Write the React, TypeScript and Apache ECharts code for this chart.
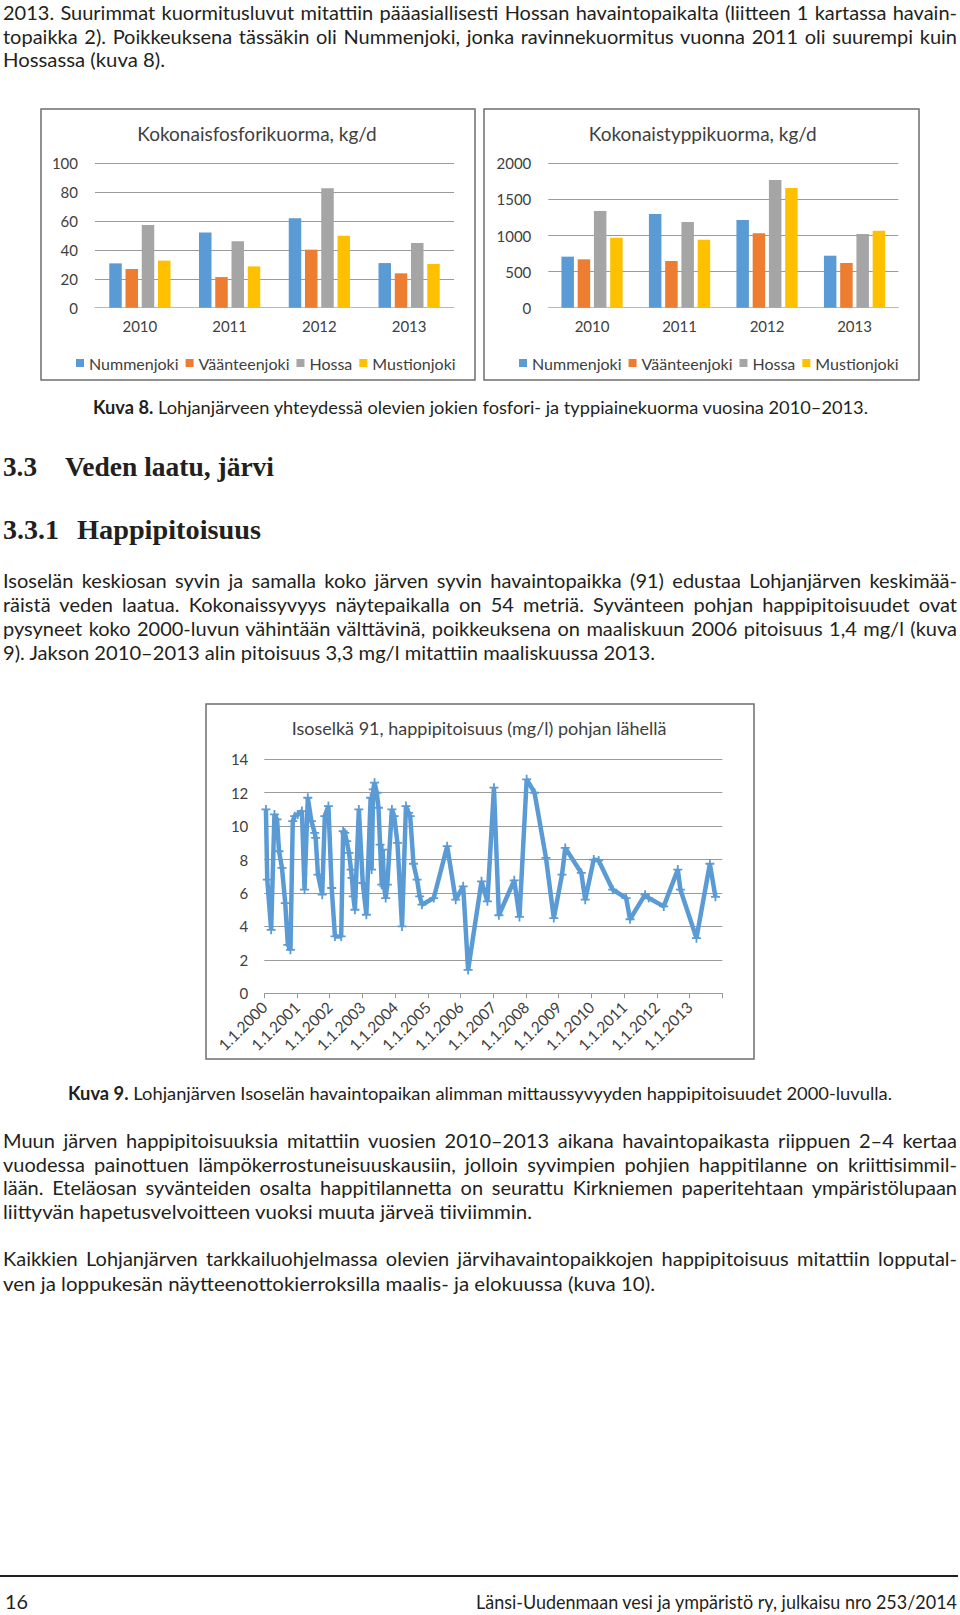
import React, { useEffect, useLayoutEffect, useRef, useState } from "react";
import * as echarts from "echarts";

const FONT = 'Lato, "Open Sans", sans-serif';
const SERIF = '"Liberation Serif", "DejaVu Serif", serif';
const TXT = "#404040";

const years = ["2010", "2011", "2012", "2013"];
const rivers = ["Nummenjoki", "Väänteenjoki", "Hossa", "Mustionjoki"];
const riverColors = ["#5B9BD5", "#ED7D31", "#A5A5A5", "#FFC000"];

// Kokonaisfosforikuorma, kg/d
const phosNummenjoki = [30.7, 52, 61.9, 30.9];
const phosVaanteenjoki = [26.8, 21.2, 40.2, 23.8];
const phosHossa = [57.3, 46, 82.7, 44.8];
const phosMustionjoki = [32.6, 28.6, 49.9, 30.3];

// Kokonaistyppikuorma, kg/d
const nitNummenjoki = [707, 1298, 1215, 720];
const nitVaanteenjoki = [670, 647, 1030, 619];
const nitHossa = [1340, 1187, 1769, 1020];
const nitMustionjoki = [970, 942, 1658, 1067];

// Isoselkä 91, happipitoisuus (mg/l) pohjan lähellä — dates as decimal years
const oxDates = [
  2000.05, 2000.09, 2000.21, 2000.31, 2000.39, 2000.45, 2000.54, 2000.64, 2000.72, 2000.8,
  2000.87, 2000.93, 2001.02, 2001.15, 2001.23, 2001.33, 2001.44, 2001.54, 2001.57, 2001.64,
  2001.77, 2001.85, 2001.96, 2002.06, 2002.16, 2002.35, 2002.41, 2002.46, 2002.52, 2002.59,
  2002.65, 2002.68, 2002.72, 2002.77, 2002.89, 2003.01, 2003.12, 2003.25, 2003.28, 2003.33,
  2003.37, 2003.44, 2003.49, 2003.54, 2003.59, 2003.62, 2003.66, 2003.71, 2003.76, 2003.9,
  2003.97, 2004.07, 2004.21, 2004.33, 2004.41, 2004.46, 2004.56, 2004.67, 2004.75, 2004.82,
  2005.18, 2005.59, 2005.85, 2006.08, 2006.23, 2006.64, 2006.82, 2007.02, 2007.17, 2007.64,
  2007.8, 2008.02, 2008.26, 2008.61, 2008.85, 2009.1, 2009.2, 2009.69, 2009.81, 2010.07,
  2010.22, 2010.65, 2011.06, 2011.18, 2011.64, 2011.75, 2012.21, 2012.64, 2012.72, 2013.21,
  2013.62, 2013.79,
];
const oxValues = [
  11.0, 6.8, 3.8, 10.7, 10.4, 8.5, 7.5, 5.4, 2.9, 2.6,
  10.3, 10.6, 10.7, 10.9, 6.2, 11.7, 10.3, 9.6, 9.3, 7.1,
  5.9, 10.6, 11.2, 6.3, 3.4, 3.4, 9.7, 9.6, 9.1, 8.4,
  7.4, 6.9, 5.8, 5.0, 11.0, 6.6, 4.7, 11.7, 7.4, 12.2,
  12.6, 12.0, 11.1, 8.9, 6.5, 8.6, 6.4, 5.7, 6.5, 11.0,
  10.6, 9.0, 4.0, 11.2, 10.8, 10.6, 7.75, 6.8, 5.8, 5.3,
  5.7, 8.8, 5.6, 6.4, 1.4, 6.7, 5.5, 12.3, 4.67, 6.76,
  4.57, 12.8, 12.0, 8.1, 4.5, 7.1, 8.7, 7.2, 5.6, 8.0,
  7.95, 6.2, 5.7, 4.43, 5.9, 5.7, 5.2, 7.4, 6.2, 3.3,
  7.75, 5.77,
];

const xTicks = { min: 2000, max: 2014, step: 1 };

const PLUS = "path://M4,0H6V4H10V6H6V10H4V6H0V4H4Z";

function FitLine(props: any) {
  const { x, y, w, j, size = 20, family = FONT, weight = 400, children } = props;
  const ref = useRef<HTMLSpanElement>(null);
  const [st, setSt] = useState<any>({});
  useLayoutEffect(() => {
    const el = ref.current;
    if (!el) return;
    const nat = el.getBoundingClientRect().width;
    const spaces = ((el.textContent || "").match(/ /g) || []).length;
    if (j && nat < w && spaces > 0) setSt({ wordSpacing: (w - nat) / spaces });
    else if (nat > 0) setSt({ transform: `scaleX(${w / nat})` });
  }, []);
  const lh = Math.round(size * 1.25);
  return (
    <span
      ref={ref}
      style={{
        position: "absolute",
        left: x,
        top: y - lh / 2,
        whiteSpace: "pre",
        fontSize: size,
        lineHeight: lh + "px",
        fontFamily: family,
        fontWeight: weight,
        color: "#231f20",
        transformOrigin: "0 50%",
        ...st,
      }}
    >
      {children}
    </span>
  );
}

function Charts() {
  const ref = useRef<HTMLDivElement>(null);
  useEffect(() => {
    if (!ref.current) return;
    const chart = echarts.init(ref.current, null, { renderer: "svg" });
    const phos = [phosNummenjoki, phosVaanteenjoki, phosHossa, phosMustionjoki];
    const nit = [nitNummenjoki, nitVaanteenjoki, nitHossa, nitMustionjoki];
    const barSeries: any[] = [];
    rivers.forEach((r, i) => {
      barSeries.push({
        type: "bar", name: r, xAxisIndex: 0, yAxisIndex: 0, data: phos[i],
        barWidth: 12.5, barGap: "30%", itemStyle: { color: riverColors[i] },
      });
    });
    rivers.forEach((r, i) => {
      barSeries.push({
        type: "bar", name: r, xAxisIndex: 1, yAxisIndex: 1, data: nit[i],
        barWidth: 12.5, barGap: "30%", itemStyle: { color: riverColors[i] },
      });
    });
    const catAxis = (g: number) => ({
      type: "category", gridIndex: g, data: years,
      axisTick: { show: false },
      axisLine: { lineStyle: { color: "#bbbbbb" } },
      axisLabel: { fontSize: 15, color: TXT, margin: 11, fontFamily: FONT },
    });
    const valAxis = (g: number, max: number, interval: number, margin: number) => ({
      type: "value", gridIndex: g, min: 0, max, interval,
      axisLine: { show: false }, axisTick: { show: false },
      splitLine: { lineStyle: { color: "#9a9a9a", width: 1 } },
      axisLabel: { fontSize: 15, color: TXT, margin, fontFamily: FONT, formatter: (v: number) => String(v) },
    });
    const legend = (left: number) => ({
      data: rivers, left, top: 350, itemWidth: 8, itemHeight: 8, itemGap: 7,
      icon: "rect", selectedMode: false,
      textStyle: { fontSize: 16, color: TXT, fontFamily: FONT },
    });
    const box = (x: number, y: number, width: number, height: number) => ({
      type: "rect", silent: true, shape: { x, y, width, height },
      style: { fill: "none", stroke: "#6e6e6e", lineWidth: 1.5 },
    });
    const title = (text: string, x: number, y: number, size: number) => ({
      type: "text", silent: true, x, y,
      style: {
        text, font: `${size}px ${FONT}`, fill: TXT,
        textAlign: "center", textVerticalAlign: "middle", align: "center", verticalAlign: "middle",
      },
    });
    chart.setOption({
      animation: false,
      grid: [
        { left: 95, top: 163.3, width: 359, height: 144.4 },
        { left: 548.3, top: 163.3, width: 350, height: 144.4 },
        { left: 264.3, top: 759.3, width: 458, height: 234 },
      ],
      xAxis: [
        catAxis(0),
        catAxis(1),
        {
          type: "value", gridIndex: 2, min: xTicks.min, max: xTicks.max, interval: xTicks.step,
          splitLine: { show: false },
          axisLine: { show: true, onZero: false, lineStyle: { color: "#9a9a9a" } },
          axisTick: { show: true, length: 5, lineStyle: { color: "#9a9a9a" } },
          axisLabel: {
            rotate: 45, fontSize: 15.5, color: TXT, margin: 11, fontFamily: FONT,
            formatter: (v: number) => (v < xTicks.max ? "1.1." + v : ""),
          },
        },
      ],
      yAxis: [valAxis(0, 100, 20, 17), valAxis(1, 2000, 500, 17), valAxis(2, 14, 2, 16)],
      legend: [legend(71), legend(514)],
      series: [
        ...barSeries,
        {
          type: "line", name: "Isoselkä 91", xAxisIndex: 2, yAxisIndex: 2,
          data: oxDates.map((d, i) => [d, oxValues[i]]),
          symbol: PLUS, symbolSize: 9, showAllSymbol: true,
          lineStyle: { width: 4.5, color: "#5B9BD5" },
          itemStyle: { color: "#5B9BD5" },
        },
      ],
      graphic: [
        box(41, 109, 434, 271),
        box(484, 109, 435, 271),
        box(206, 704, 548, 355),
        title("Kokonaisfosforikuorma, kg/d", 257, 133.3, 19),
        title("Kokonaistyppikuorma, kg/d", 702.7, 133.3, 19),
        title("Isoselkä 91, happipitoisuus (mg/l) pohjan lähellä", 479, 728, 18),
      ],
    });
    return () => chart.dispose();
  }, []);
  return <div ref={ref} style={{ position: "absolute", left: 0, top: 0, width: 960, height: 1615 }} />;
}

export default function App() {
  return (
    <div
      style={{
        position: "absolute", left: 0, top: 0, width: 960, height: 1615,
        background: "#ffffff", overflow: "hidden",
      }}
    >
      <Charts />
      <FitLine x={3} y={12.5} w={954} j>
        2013. Suurimmat kuormitusluvut mitattiin pääasiallisesti Hossan havaintopaikalta (liitteen 1 kartassa havain-
      </FitLine>
      <FitLine x={3} y={36} w={954} j>
        topaikka 2). Poikkeuksena tässäkin oli Nummenjoki, jonka ravinnekuormitus vuonna 2011 oli suurempi kuin
      </FitLine>
      <FitLine x={3} y={59.7} w={162}>Hossassa (kuva 8).</FitLine>

      <FitLine x={92.7} y={407} w={775} size={18}>
        <b>Kuva 8.</b> Lohjanjärveen yhteydessä olevien jokien fosfori- ja typpiainekuorma vuosina 2010–2013.
      </FitLine>

      <FitLine x={3} y={466.5} w={34} size={27} family={SERIF} weight={700}>3.3</FitLine>
      <FitLine x={65} y={466.5} w={209} size={27} family={SERIF} weight={700}>Veden laatu, järvi</FitLine>
      <FitLine x={3} y={530} w={56} size={27} family={SERIF} weight={700}>3.3.1</FitLine>
      <FitLine x={77} y={530} w={184} size={27} family={SERIF} weight={700}>Happipitoisuus</FitLine>

      <FitLine x={3} y={580} w={954} j>
        Isoselän keskiosan syvin ja samalla koko järven syvin havaintopaikka (91) edustaa Lohjanjärven keskimää-
      </FitLine>
      <FitLine x={3} y={604.5} w={954} j>
        räistä veden laatua. Kokonaissyvyys näytepaikalla on 54 metriä. Syvänteen pohjan happipitoisuudet ovat
      </FitLine>
      <FitLine x={3} y={628.3} w={954} j>
        pysyneet koko 2000-luvun vähintään välttävinä, poikkeuksena on maaliskuun 2006 pitoisuus 1,4 mg/l (kuva
      </FitLine>
      <FitLine x={3} y={652} w={652}>
        9). Jakson 2010–2013 alin pitoisuus 3,3 mg/l mitattiin maaliskuussa 2013.
      </FitLine>

      <FitLine x={68} y={1093} w={824} size={18}>
        <b>Kuva 9.</b> Lohjanjärven Isoselän havaintopaikan alimman mittaussyvyyden happipitoisuudet 2000-luvulla.
      </FitLine>

      <FitLine x={3} y={1140} w={954} j>
        Muun järven happipitoisuuksia mitattiin vuosien 2010–2013 aikana havaintopaikasta riippuen 2–4 kertaa
      </FitLine>
      <FitLine x={3} y={1164} w={954} j>
        vuodessa painottuen lämpökerrostuneisuuskausiin, jolloin syvimpien pohjien happitilanne on kriittisimmil-
      </FitLine>
      <FitLine x={3} y={1187.6} w={954} j>
        lään. Eteläosan syvänteiden osalta happitilannetta on seurattu Kirkniemen paperitehtaan ympäristölupaan
      </FitLine>
      <FitLine x={3} y={1211} w={529}>
        liittyvän hapetusvelvoitteen vuoksi muuta järveä tiiviimmin.
      </FitLine>

      <FitLine x={3} y={1258.7} w={954} j>
        Kaikkien Lohjanjärven tarkkailuohjelmassa olevien järvihavaintopaikkojen happipitoisuus mitattiin lopputal-
      </FitLine>
      <FitLine x={3} y={1283} w={652}>
        ven ja loppukesän näytteenottokierroksilla maalis- ja elokuussa (kuva 10).
      </FitLine>

      <div style={{ position: "absolute", left: 0, top: 1574.5, width: 958, height: 2.5, background: "#231f20" }} />
      <FitLine x={5} y={1601.6} w={23} size={20}>16</FitLine>
      <FitLine x={476} y={1601.6} w={481} size={19}>
        Länsi-Uudenmaan vesi ja ympäristö ry, julkaisu nro 253/2014
      </FitLine>
    </div>
  );
}
